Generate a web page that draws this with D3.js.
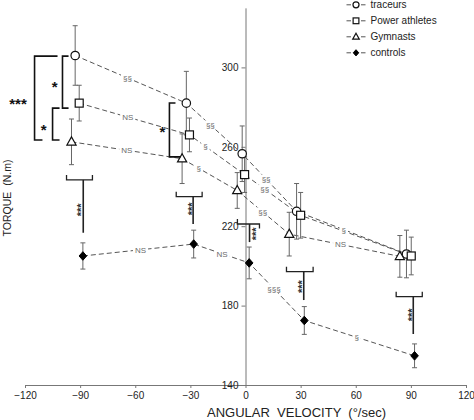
<!DOCTYPE html>
<html><head><meta charset="utf-8">
<script src="https://cdn.jsdelivr.net/npm/d3@7"></script>
<style>
body{margin:0;background:#fff;}
svg{display:block;font-family:"Liberation Sans",Arial,sans-serif;}
</style></head>
<body><svg id="c" width="474" height="420"></svg>
<script>
// ---------- data ----------
const xTicks = [-120,-90,-60,-30,0,30,60,90,120];
const yTicks = [140,180,220,260,300];
const groups = ["traceurs","Power athletes","Gymnasts","controls"];
// plotted angular positions (slightly offset per group)
const traceursX = [-92.7,-32.2,-1.8,27.8,87.6];
const powerX    = [-90.5,-30.5,-0.5,30,90.2];
const gymX      = [-94.7,-34.5,-4.5,23.8,84];
const controlsX = [-88.5,-28.2,2,32,92];
// mean torque (N.m)
const traceursT = [306,282,256.5,227.5,206];
const powerT    = [282,266,246,225.5,205];
const gymT      = [262.5,254,238,216,204.8];
const controlsT = [205,211,201.5,172.5,154.7];
// SD
const traceursSD = [15,16,14,14,12];
const powerSD    = [9,8.5,9,11.5,9.5];
const gymSD      = [11.5,12.5,9,11,10.5];
const controlsSD = [6.6,7,8,7,6];
// segment significance labels
const traceursSig = ["§§","§§","§§","§"];
const powerSig    = ["NS","§","§§",""];
const gymSig      = ["NS","§","§§","NS"];
const controlsSig = ["NS","NS","§§§","§"];

// ---------- layout ----------
const x = d3.scaleLinear().domain([-120,120]).range([25,466]);
const y = d3.scaleLinear().domain([140,330]).range([385,7.85]);
const svg = d3.select("#c");

const series = [
  {name:groups[0],xs:traceursX,ts:traceursT,sd:traceursSD,sig:traceursSig,frac:[0.47,0.43,0.44,0.43],sym:"circle"},
  {name:groups[1],xs:powerX,ts:powerT,sd:powerSD,sig:powerSig,frac:[0.44,0.29,0.36,0.5],sym:"square"},
  {name:groups[2],xs:gymX,ts:gymT,sd:gymSD,sig:gymSig,frac:[0.5,0.3,0.49,0.465],sym:"triangle"},
  {name:groups[3],xs:controlsX,ts:controlsT,sd:controlsSD,sig:controlsSig,frac:[0.52,0.51,0.45,0.475],sym:"diamond"}
];

// axes
const xAxis = d3.axisBottom(x).tickValues(xTicks).tickSizeInner(3).tickSizeOuter(0).tickPadding(4);
const gx = svg.append("g").attr("transform",`translate(0,${y(140)})`).call(xAxis);
gx.selectAll("text").attr("font-size",10).attr("fill","#222").attr("font-family","Liberation Sans, Arial");
gx.select(".domain").attr("stroke","#777");
gx.selectAll(".tick line").attr("stroke","#777");

const yAxis = d3.axisLeft(y).tickValues(yTicks).tickSizeInner(4).tickSizeOuter(0).tickPadding(3);
const gy = svg.append("g").attr("transform",`translate(${x(0)},0)`).call(yAxis);
gy.selectAll("text").attr("font-size",10).attr("fill","#222").attr("font-family","Liberation Sans, Arial");
gy.select(".domain").attr("stroke","#777");
gy.selectAll(".tick line").attr("stroke","#777");

// axis titles
svg.append("text").attr("x",296.5).attr("y",417).attr("text-anchor","middle")
  .attr("font-size",13).attr("fill","#222").style("white-space","pre").text("ANGULAR  VELOCITY  (°/sec)");
svg.append("text").attr("transform","translate(11,198) rotate(-90)").attr("text-anchor","middle")
  .attr("font-size",10.5).attr("fill","#222").style("white-space","pre").text("TORQUE  (N.m)");

// dashed connecting lines
const line = d3.line().x(d=>x(d[0])).y(d=>y(d[1]));
series.forEach(s=>{
  const pts = s.xs.map((v,i)=>[v,s.ts[i]]);
  svg.append("path").attr("d",line(pts)).attr("fill","none")
    .attr("stroke","#555").attr("stroke-width",1).attr("stroke-dasharray","5,3");
});

// segment labels with white background
series.forEach(s=>{
  s.sig.forEach((lab,i)=>{
    if(!lab) return;
    const f=s.frac[i];
    const px = x(s.xs[i]) + f*(x(s.xs[i+1])-x(s.xs[i]));
    const py = y(s.ts[i]) + f*(y(s.ts[i+1])-y(s.ts[i]));
    const g = svg.append("g");
    const t = g.append("text").attr("x",px).attr("y",py+3).attr("text-anchor","middle")
      .attr("font-size",8).attr("fill","#6a6a6a").text(lab);
    const bb = t.node().getBBox();
    g.insert("rect","text").attr("x",bb.x-2).attr("y",py-4.5).attr("width",bb.width+4).attr("height",9).attr("fill","#fff");
  });
});

// error bars
series.forEach(s=>{
  s.xs.forEach((v,i)=>{
    const cx=x(v), t1=y(s.ts[i]+s.sd[i]), t2=y(s.ts[i]-s.sd[i]);
    const g=svg.append("g").attr("stroke","#666").attr("stroke-width",1);
    g.append("line").attr("x1",cx).attr("x2",cx).attr("y1",t1).attr("y2",t2);
    g.append("line").attr("x1",cx-2.5).attr("x2",cx+2.5).attr("y1",t1).attr("y2",t1);
    g.append("line").attr("x1",cx-2.5).attr("x2",cx+2.5).attr("y1",t2).attr("y2",t2);
  });
});

// markers
function marker(g,sym,cx,cy,scale){
  scale=scale||1;
  if(sym==="circle") g.append("circle").attr("cx",cx).attr("cy",cy).attr("r",4.2*scale).attr("fill","#fff").attr("stroke","#111").attr("stroke-width",1.2);
  if(sym==="square") g.append("rect").attr("x",cx-4*scale).attr("y",cy-4*scale).attr("width",8*scale).attr("height",8*scale).attr("fill","#fff").attr("stroke","#111").attr("stroke-width",1.2);
  if(sym==="triangle") g.append("path").attr("d",`M${cx},${cy-5*scale}L${cx+4.6*scale},${cy+3.2*scale}L${cx-4.6*scale},${cy+3.2*scale}Z`).attr("fill","#fff").attr("stroke","#111").attr("stroke-width",1.2);
  if(sym==="diamond") g.append("path").attr("d",`M${cx},${cy-4.3*scale}L${cx+3.8*scale},${cy}L${cx},${cy+4.3*scale}L${cx-3.8*scale},${cy}Z`).attr("fill","#000").attr("stroke","#000").attr("stroke-width",1);
}
series.forEach(s=>{
  const g=svg.append("g");
  s.xs.forEach((v,i)=>marker(g,s.sym,x(v),y(s.ts[i])));
});

// significance brackets between athlete groups (data coords)
const athleteBrackets = [
  {bx:-114.8,top:305.7,bot:263.4,armTop:-102.3,armBot:-110.5,label:"***",lx:-123.8,ly:283.6},
  {bx:-99.6,top:305.7,bot:279.5,armTop:-96.3,armBot:-96.3,label:"*",lx:-103.9,ly:292.1},
  {bx:-105,top:279.5,bot:263.4,armTop:-101.2,armBot:-101.2,label:"*",lx:-109.8,ly:270.5},
  {bx:-41.4,top:282.1,bot:254.9,armTop:-38.1,armBot:-35.4,label:"*",lx:-45.2,ly:269.5}
];
athleteBrackets.forEach(b=>{
  const p=`M${x(b.armTop)},${y(b.top)}H${x(b.bx)}V${y(b.bot)}H${x(b.armBot)}`;
  svg.append("path").attr("d",p).attr("fill","none").attr("stroke","#111").attr("stroke-width",1.6);
  const fs=15;
  svg.append("text").attr("x",x(b.lx)).attr("y",y(b.ly)+0.6*fs).attr("text-anchor","middle")
    .attr("font-size",fs).attr("font-weight","bold").attr("fill","#111").text(b.label);
});

// athletes vs controls brackets
const controlBrackets = [
  {x1:-97.4,x2:-83.3,yb:243.3,tl:2.5,tr:2.5,sx:-88.3,yEnd:216.7,stx:-90.9,sty:228.2},
  {x1:-37.7,x2:-23.6,yb:234.9,tl:2.5,tr:2.5,sx:-28.5,yEnd:221.1,stx:-30.5,sty:228.7},
  {x1:-4.4,x2:7.6,yb:221.1,tl:2.5,tr:-2.2,sx:2.2,yEnd:212,stx:4.5,sty:216.1},
  {x1:22.3,x2:36.8,yb:197.1,tl:2.5,tr:2.5,sx:31.7,yEnd:182.8,stx:29.6,sty:189.6},
  {x1:82,x2:96.2,yb:184.5,tl:2.5,tr:2.5,sx:91.3,yEnd:165.7,stx:89.3,sty:175.3}
];
controlBrackets.forEach(b=>{
  const p=`M${x(b.x1)},${y(b.yb+b.tl)}V${y(b.yb)}H${x(b.x2)}V${y(b.yb+b.tr)}`;
  svg.append("path").attr("d",p).attr("fill","none").attr("stroke","#222").attr("stroke-width",1.3);
  svg.append("line").attr("x1",x(b.sx)).attr("x2",x(b.sx)).attr("y1",y(b.yb)).attr("y2",y(b.yEnd))
    .attr("stroke","#222").attr("stroke-width",1.6);
  const fs=11;
  svg.append("text").attr("transform",`translate(${x(b.stx)+0.57*fs},${y(b.sty)}) rotate(-90)`)
    .attr("text-anchor","middle").attr("font-size",fs).attr("font-weight","bold").attr("fill","#333").text("***");
});

// legend
const leg = svg.append("g");
series.forEach((s,i)=>{
  const cy = 4.8 + i*16;
  leg.append("line").attr("x1",346.5).attr("x2",351).attr("y1",cy).attr("y2",cy).attr("stroke","#555");
  leg.append("line").attr("x1",361).attr("x2",365.5).attr("y1",cy).attr("y2",cy).attr("stroke","#555");
  marker(leg,s.sym,356,cy,0.72);
  leg.append("text").attr("x",370.5).attr("y",cy+3.6).attr("font-size",10).attr("fill","#222").text(s.name);
});
</script></body></html>
